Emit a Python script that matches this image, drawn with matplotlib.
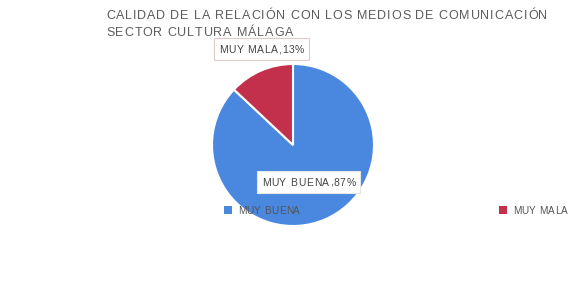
import matplotlib
matplotlib.use("Agg")
import matplotlib.pyplot as plt
from matplotlib.patches import Rectangle
from matplotlib.font_manager import FontProperties, findfont
from matplotlib.ft2font import FT2Font

categories = ["MUY BUENA", "MUY MALA"]
values = [87, 13]
colors = ["#4a87df", "#c2304c"]
title_lines = ["CALIDAD DE LA RELACIÓN CON LOS MEDIOS DE COMUNICACIÓN", "SECTOR CULTURA MÁLAGA"]

W, H = 586, 287
DPI = 100
fig = plt.figure(figsize=(W / DPI, H / DPI), dpi=DPI)
fig.patch.set_facecolor("white")


def fx(px):
    return px / W


def fy(py):
    return 1 - py / H


def advances(s, prop):
    font = FT2Font(findfont(prop))
    font.set_size(prop.get_size_in_points(), DPI)
    out = []
    for ch in s:
        g = font.load_char(ord(ch))
        out.append(g.linearHoriAdvance / 65536.0)
    return out


def tracked_text(x, y, s, size, color, tracking, family="Liberation Sans", align="left"):
    """Draw text at pixel coords (x = left or center, y = middle of capitals) with letter spacing."""
    prop = FontProperties(family=family, size=size)
    adv = advances(s, prop)
    total = sum(adv) + tracking * (len(s) - 1)
    x0 = x if align == "left" else x - total / 2
    baseline = y + 0.358 * size * DPI / 72
    pos = x0
    for ch, a in zip(s, adv):
        if ch != " ":
            fig.text(fx(pos), fy(baseline), ch, fontproperties=prop, color=color,
                     ha="left", va="baseline", zorder=6)
        pos += a + tracking
    return x0, total


cx, cy, r = 293, 145, 81
ax = fig.add_axes([fx(cx - r), fy(cy + r), 2 * r / W, 2 * r / H])
ax.pie(values, colors=colors, startangle=90, counterclock=False,
       wedgeprops=dict(edgecolor="white", linewidth=1.5))
ax.set_xlim(-1, 1)
ax.set_ylim(-1, 1)
ax.set_aspect("auto")
ax.axis("off")

tc = "#5c5c5c"
tracked_text(106, 15, title_lines[0], 9, tc, 0.85)
tracked_text(106, 32, title_lines[1], 9, tc, 0.85)

labels = [f"{c},{v}%" for c, v in zip(categories, values)]
label_pos = [(308.5, 182), (261.5, 49.5)]
edge = ["#e6e6e6", "#e3c9c9"]
for lab, (px, py), ec in zip(labels, label_pos, edge):
    x0, tw = tracked_text(px, py, lab, 7.5, "#444444", 0.7, align="center")
    bw, bh = tw + 10, 22
    fig.patches.append(Rectangle((fx(px - bw / 2), fy(py + bh / 2)), bw / W, bh / H,
                                 transform=fig.transFigure, facecolor="white",
                                 edgecolor=ec, linewidth=0.8, zorder=5))

legend_pos = [(228, 210), (503, 210)]
for c, col, (px, py) in zip(categories, colors, legend_pos):
    fig.patches.append(Rectangle((fx(px - 4), fy(py + 4)), 8 / W, 8 / H, transform=fig.transFigure,
                                 facecolor=col, edgecolor="none", zorder=5))
    tracked_text(px + 10, py, c, 7.2, "#555555", 0.3)

fig.savefig("out.png", dpi=DPI, facecolor="white")
